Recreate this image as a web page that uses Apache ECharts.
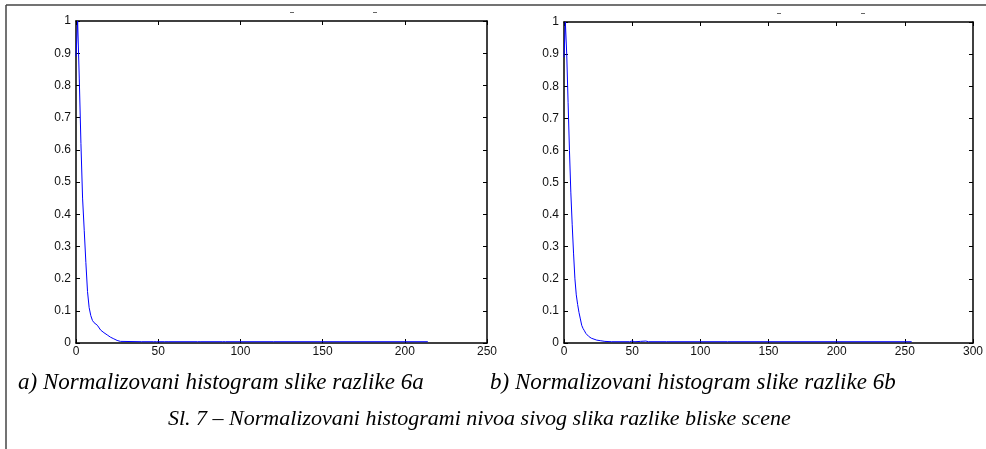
<!DOCTYPE html>
<html>
<head>
<meta charset="utf-8">
<script src="https://cdn.jsdelivr.net/npm/echarts@6/dist/echarts.min.js"></script>
<style>
  html, body { margin: 0; padding: 0; background: #fff; }
  #chart { width: 986px; height: 449px; }
</style>
</head>
<body>
<div id="chart"></div>
<script>
// histogram a) - [nivo sivog, normalizovana vrednost]
const histA = [
    [0, 0.89], [1, 1.0], [2, 0.82], [3, 0.62], [4, 0.45], [5, 0.35], [6, 0.25],
    [7, 0.16], [8, 0.11], [9, 0.085], [10, 0.07], [11, 0.063], [12, 0.058],
    [13, 0.055], [14, 0.05], [15, 0.04], [16, 0.035], [17, 0.032], [18, 0.028],
    [19, 0.025], [20, 0.022], [21, 0.018], [22, 0.015], [23, 0.013], [24, 0.01],
    [25, 0.008], [26, 0.006], [27, 0.005], [28, 0.004], [40, 0.004], [47, 0.004],
    [48, 0.007], [49, 0.004], [54, 0.004], [55, 0.006], [56, 0.004], [74, 0.004],
    [75, 0.006], [76, 0.004], [89, 0.004], [90, 0.006], [91, 0.004], [120, 0.004],
    [160, 0.004], [214, 0.004]
];
// histogram b)
const histB = [
    [0, 0.89], [1, 1.0], [2, 0.9], [3, 0.75], [4, 0.6], [5, 0.47], [6, 0.37],
    [7, 0.28], [8, 0.2], [9, 0.15], [10, 0.12], [11, 0.095], [12, 0.075],
    [13, 0.055], [14, 0.045], [15, 0.038], [16, 0.03], [17, 0.025], [18, 0.021],
    [19, 0.018], [20, 0.015], [22, 0.012], [24, 0.009], [27, 0.007], [30, 0.005],
    [35, 0.004], [48, 0.004], [50, 0.006], [52, 0.004], [56, 0.005], [60, 0.006],
    [62, 0.004], [75, 0.004], [76, 0.006], [77, 0.004], [120, 0.004], [200, 0.004],
    [255, 0.004]
];
const xMaxA = 250;
const xMaxB = 300;
const xStep = 50;
const yStep = 0.1;

const captionA = 'a) Normalizovani histogram slike razlike 6a';
const captionB = 'b) Normalizovani histogram slike razlike 6b';
const captionMain = 'Sl. 7 – Normalizovani histogrami nivoa sivog slika razlike bliske scene';

const chart = echarts.init(document.getElementById('chart'));

// osovine: crne, bez prelaska na nulu (okvir oko grafika)
const axisLine = { onZero: false, lineStyle: { color: '#000', width: 1.5 } };
const axisTick = { inside: true, length: 4, lineStyle: { color: '#000' } };
const labelStyle = { color: '#111', fontSize: 12, fontFamily: 'Liberation Sans, Arial, sans-serif' };

function xAxes(gridIndex, max) {
    return [
        {
            type: 'value', gridIndex: gridIndex, min: 0, max: max, interval: xStep,
            position: 'bottom',
            axisLine: axisLine,
            axisTick: axisTick,
            axisLabel: Object.assign({ margin: 3 }, labelStyle),
            splitLine: { show: false }
        },
        {
            type: 'value', gridIndex: gridIndex, min: 0, max: max, interval: xStep,
            position: 'top',
            axisLine: axisLine,
            axisTick: axisTick,
            axisLabel: { show: false },
            splitLine: { show: false }
        }
    ];
}

function yAxes(gridIndex) {
    return [
        {
            type: 'value', gridIndex: gridIndex, min: 0, max: 1, interval: yStep,
            position: 'left',
            axisLine: axisLine,
            axisTick: axisTick,
            axisLabel: Object.assign({ margin: 5 }, labelStyle),
            splitLine: { show: false }
        },
        {
            type: 'value', gridIndex: gridIndex, min: 0, max: 1, interval: yStep,
            position: 'right',
            axisLine: axisLine,
            axisTick: axisTick,
            axisLabel: { show: false },
            splitLine: { show: false }
        }
    ];
}

const captionFont = {
    fontFamily: 'Liberation Serif, Times New Roman, serif',
    fontStyle: 'italic',
    fontWeight: 'normal',
    color: '#000'
};

const options = {
    animation: false,
    backgroundColor: '#fff',
    grid: [
        { left: 76, top: 21, width: 411, height: 322 },
        { left: 564, top: 22, width: 411, height: 321 }
    ],
    xAxis: xAxes(0, xMaxA).concat(xAxes(1, xMaxB)),
    yAxis: yAxes(0).concat(yAxes(1)),
    series: [
        {
            type: 'line', xAxisIndex: 0, yAxisIndex: 0, data: histA,
            showSymbol: false, lineStyle: { color: '#0000ff', width: 1 }
        },
        {
            type: 'line', xAxisIndex: 2, yAxisIndex: 2, data: histB,
            showSymbol: false, lineStyle: { color: '#0000ff', width: 1 }
        }
    ],
    graphic: [
        // okvir slike
        { type: 'line', shape: { x1: 6, y1: 5, x2: 986, y2: 5 }, style: { stroke: '#444', lineWidth: 1.5 } },
        { type: 'line', shape: { x1: 6, y1: 5, x2: 6, y2: 449 }, style: { stroke: '#444', lineWidth: 1.5 } },
        // ostaci odsečenog naslova
        { type: 'rect', shape: { x: 290, y: 12, width: 4, height: 1 }, style: { fill: '#666' } },
        { type: 'rect', shape: { x: 373, y: 12, width: 4, height: 1 }, style: { fill: '#666' } },
        { type: 'rect', shape: { x: 777, y: 13, width: 4, height: 1 }, style: { fill: '#666' } },
        { type: 'rect', shape: { x: 861, y: 13, width: 4, height: 1 }, style: { fill: '#666' } },
        {
            type: 'text', left: 18, top: 371,
            style: Object.assign({ text: captionA, fontSize: 23 }, captionFont)
        },
        {
            type: 'text', left: 490, top: 371,
            style: Object.assign({ text: captionB, fontSize: 23 }, captionFont)
        },
        {
            type: 'text', left: 168, top: 408,
            style: Object.assign({ text: captionMain, fontSize: 22 }, captionFont)
        }
    ]
};

chart.setOption(options);
</script>
</body>
</html>
